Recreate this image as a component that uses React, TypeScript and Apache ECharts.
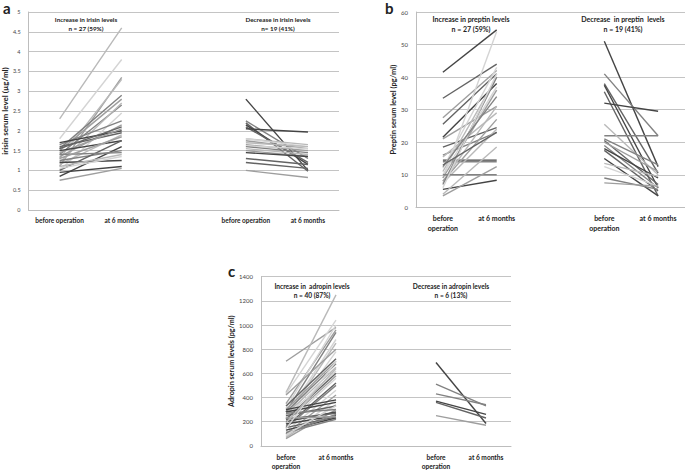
import React, { useEffect, useRef } from "react";
import * as echarts from "echarts";

// ---------- Data ----------
const catsA = ["before operation", "at 6 months", "", "before operation", "at 6 months"];
const catsBC = ["before\noperation", "at 6 months", "", "before\noperation", "at 6 months"];

// Panel a: irisin (µg/ml)
const aIncBefore = [2.3, 1.8, 1.1, 1.3, 1.55, 1.5, 1.4, 1.2, 1.0, 1.65, 1.35, 1.7, 1.6, 1.45, 1.5, 1.15, 0.85, 1.2, 1.25, 1.0, 0.95, 0.75, 1.4, 1.1, 1.3, 1.55, 1.05];
const aIncAfter = [4.6, 3.8, 3.35, 3.3, 2.9, 2.8, 2.65, 2.7, 2.45, 2.25, 2.15, 2.0, 1.95, 2.05, 1.75, 1.9, 1.6, 1.25, 1.5, 1.75, 1.1, 1.05, 1.45, 1.4, 1.85, 2.1, 1.35];
const aDecBefore = [2.8, 2.25, 2.2, 2.15, 2.1, 2.05, 1.8, 1.8, 1.75, 1.7, 1.65, 1.62, 1.6, 1.55, 1.5, 1.45, 1.3, 1.2, 1.0];
const aDecAfter = [1.0, 1.3, 0.98, 1.15, 1.2, 1.97, 1.65, 1.6, 1.55, 1.6, 1.5, 1.55, 1.45, 1.4, 1.35, 1.35, 1.15, 1.05, 0.82];

// Panel b: preptin (pg/ml)
const bIncBefore = [41.5, 33.5, 27.5, 25.5, 21.5, 21, 18.5, 16, 15.5, 14.5, 14, 12, 11, 10, 9, 9, 8, 8, 7.5, 7, 10, 5.5, 3.5, 4, 6, 12.5, 13];
const bIncAfter = [54.5, 44, 42, 41, 38, 31, 24.5, 23, 29, 14.5, 14, 43, 40, 37, 54, 36, 31, 27, 24, 40, 10, 8.3, 12.5, 18.5, 41, 34, 23];
const bDecBefore = [51, 41, 38, 37.5, 35.5, 32, 22, 25.5, 21, 20.5, 20, 19, 18, 17.5, 15, 13.5, 12.5, 9, 7.5];
const bDecAfter = [12.5, 22, 10.5, 6, 3.5, 29.5, 22, 10, 13, 7, 11, 6, 9, 5, 3.5, 9.5, 6.5, 5.5, 6.5];

// Panel c: adropin (pg/ml)
const cIncBefore = [700, 440, 430, 350, 310, 280, 250, 230, 420, 200, 330, 300, 280, 260, 240, 220, 200, 180, 160, 150, 120, 100, 80, 70, 60, 300, 280, 250, 200, 220, 180, 150, 130, 110, 100, 90, 270, 230, 140, 190];
const cIncAfter = [980, 1250, 1040, 960, 1000, 940, 880, 850, 800, 780, 720, 700, 680, 650, 620, 600, 580, 560, 520, 500, 460, 420, 380, 340, 300, 380, 360, 330, 280, 270, 250, 240, 230, 220, 260, 330, 300, 240, 700, 640];
const cDecBefore = [690, 510, 430, 370, 360, 250];
const cDecAfter = [185, 330, 340, 260, 230, 170];

// ---------- Styles ----------
const shades = ["#444444", "#636363", "#828282", "#9e9e9e", "#b9b9b9", "#d4d4d4"];
const aIncShade = [4, 5, 3, 4, 2, 3, 2, 4, 5, 2, 3, 0, 1, 3, 0, 4, 0, 0, 2, 1, 0, 3, 2, 4, 3, 1, 5];
const aDecShade = [0, 2, 1, 0, 1, 0, 4, 5, 3, 4, 3, 5, 2, 4, 3, 0, 1, 1, 3];
const bIncShade = [0, 1, 3, 1, 0, 3, 1, 2, 4, 0, 2, 5, 4, 5, 5, 3, 4, 3, 4, 2, 2, 0, 3, 4, 5, 2, 1];
const bDecShade = [0, 2, 1, 0, 1, 0, 2, 4, 2, 1, 3, 2, 0, 1, 0, 4, 5, 2, 3];
const cIncShade = [3, 4, 5, 3, 5, 2, 5, 4, 3, 5, 1, 3, 2, 4, 5, 1, 3, 5, 1, 2, 5, 3, 5, 4, 3, 0, 0, 1, 0, 1, 0, 1, 0, 2, 2, 5, 2, 3, 5, 4];
const cDecShade = [0, 2, 2, 0, 1, 3];

const FONT = "Lato, 'Open Sans', sans-serif";

function pairs(grid: number, before: number[], after: number[], shade: number[], x0: number) {
  return before.map((b, i) => ({
    type: "line",
    xAxisIndex: grid,
    yAxisIndex: grid,
    symbol: "none",
    silent: true,
    lineStyle: { color: shades[shade[i]], width: 1.4 },
    data: [
      [x0, b],
      [x0 + 1, after[i]],
    ],
  }));
}

function xAxisCfg(grid: number, cats: string[], fs: number, margin: number) {
  return {
    type: "category",
    gridIndex: grid,
    data: cats,
    boundaryGap: true,
    axisTick: { show: false },
    axisLine: { show: true, lineStyle: { color: "#bdbdbd", width: 1 } },
    axisLabel: {
      interval: 0,
      fontFamily: FONT,
      fontWeight: "bold",
      fontSize: fs,
      color: "#222222",
      margin,
      lineHeight: fs + 3,
    },
    splitLine: { show: false },
  };
}

function yAxisCfg(grid: number, max: number, interval: number, name: string, nameFs: number, nameGap: number, fs: number) {
  return {
    type: "value",
    gridIndex: grid,
    min: 0,
    max,
    interval,
    name,
    nameLocation: "middle",
    nameGap,
    nameRotate: 90,
    nameTextStyle: { fontFamily: FONT, fontWeight: "bold", fontSize: nameFs, color: "#222" },
    axisLine: { show: true, lineStyle: { color: "#bdbdbd", width: 1 } },
    axisTick: { show: false },
    axisLabel: {
      fontFamily: FONT,
      fontSize: fs,
      color: "#444",
      margin: 8,
      formatter: (v: number) => String(v),
    },
    splitLine: { show: true, lineStyle: { color: "#c4c4c4", width: 1 } },
  };
}

function txt(x: number, y: number, text: string, fs: number, weight = "bold", align = "center", va = "middle") {
  return {
    type: "text",
    x,
    y,
    silent: true,
    style: {
      text,
      fontFamily: FONT,
      fontWeight: weight,
      fontSize: fs,
      fill: "#222",
      align,
      verticalAlign: va,
    },
  };
}

export default function App() {
  const ref = useRef<HTMLDivElement>(null);
  useEffect(() => {
    if (!ref.current) return;
    const chart = echarts.init(ref.current, undefined, { renderer: "svg" });
    chart.setOption({
      animation: false,
      backgroundColor: "#ffffff",
      grid: [
        { left: 25, top: 12, width: 314, height: 198 },
        { left: 416, top: 12, width: 269, height: 195.3 },
        { left: 261, top: 276.7, width: 250, height: 170.6 },
      ],
      xAxis: [xAxisCfg(0, catsA, 6.5, 6), xAxisCfg(1, catsBC, 7, 6), xAxisCfg(2, catsBC, 6.6, 6)],
      yAxis: [
        yAxisCfg(0, 5, 0.5, "irisin serum level (µg/ml)", 8, 14, 5.5),
        yAxisCfg(1, 60, 10, "Preptin serum level (pg/ml)", 7.5, 16, 6),
        yAxisCfg(2, 1400, 200, "Adropin serum levels (pg/ml)", 7.2, 20, 6),
      ],
      series: [
        ...pairs(0, aIncBefore, aIncAfter, aIncShade, 0),
        ...pairs(0, aDecBefore, aDecAfter, aDecShade, 3),
        ...pairs(1, bIncBefore, bIncAfter, bIncShade, 0),
        ...pairs(1, bDecBefore, bDecAfter, bDecShade, 3),
        ...pairs(2, cIncBefore, cIncAfter, cIncShade, 0),
        ...pairs(2, cDecBefore, cDecAfter, cDecShade, 3),
      ],
      graphic: [
        txt(3, 0, "a", 15, "bold", "left", "top"),
        txt(385, 0, "b", 15, "bold", "left", "top"),
        txt(228, 263, "c", 15, "bold", "left", "top"),
        txt(86, 19, "Increase in irisin levels", 6.3),
        txt(86, 28.5, "n = 27 (59%)", 6.3),
        txt(278, 19, "Decrease in irisin levels", 6.3),
        txt(278, 28.5, "n= 19 (41%)", 6.3),
        txt(471, 18.5, "Increase in preptin levels", 7),
        txt(471, 28.5, "n = 27 (59%)", 7),
        txt(623, 18.5, "Decrease  in preptin  levels", 7),
        txt(623, 28.5, "n = 19 (41%)", 7),
        txt(312, 286, "Increase in  adropin levels", 6.6),
        txt(312, 294.5, "n = 40 (87%)", 6.6),
        txt(451, 286, "Decrease in adropin levels", 6.6),
        txt(451, 294.5, "n = 6 (13%)", 6.6),
      ],
    });
    return () => chart.dispose();
  }, []);
  return (
    <div
      ref={ref}
      style={{ position: "absolute", left: 0, top: 0, width: 685, height: 471, background: "#fff" }}
    />
  );
}
